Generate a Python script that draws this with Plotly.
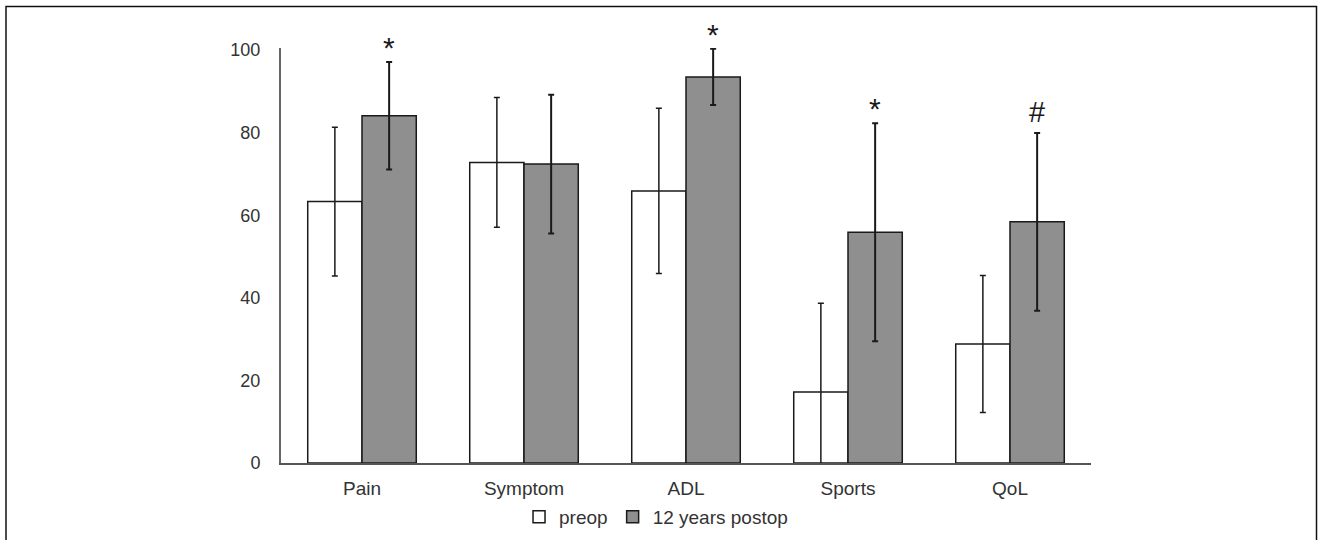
import plotly.graph_objects as go

categories = ["Pain", "Symptom", "ADL", "Sports", "QoL"]
preop_mean = [63.3, 72.8, 65.9, 17.2, 28.8]
preop_sd = [18.0, 15.7, 20.0, 21.5, 16.6]
postop_mean = [84.1, 72.4, 93.5, 55.9, 58.4]
postop_sd = [13.0, 16.8, 6.8, 26.4, 21.5]
marks = ["*", "", "*", "*", "#"]
series_names = ["preop", "12 years postop"]
y_ticks = [0, 20, 40, 60, 80, 100]

FONT = "Liberation Sans, Arial, sans-serif"
fig = go.Figure()
fig.add_trace(go.Bar(
    x=categories, y=preop_mean, name=series_names[0],
    marker=dict(color="white", line=dict(color="#1a1a1a", width=1.5)),
    error_y=dict(type="data", array=preop_sd, visible=True, color="#1a1a1a", thickness=1.5, width=3),
))
fig.add_trace(go.Bar(
    x=categories, y=postop_mean, name=series_names[1],
    marker=dict(color="#8f8f8f", line=dict(color="#1a1a1a", width=1.5)),
    error_y=dict(type="data", array=postop_sd, visible=True, color="#1a1a1a", thickness=2, width=3),
))

for i, (m, mean, sd) in enumerate(zip(marks, postop_mean, postop_sd)):
    if m:
        fig.add_annotation(
            x=i + 0.1675, y=mean + sd, text=m, showarrow=False,
            xref="x", yref="y", yanchor="bottom",
            yshift=-4 if m == "*" else 3,
            font=dict(family=FONT, size=30 if m == "*" else 29, color="#1a1a1a"),
        )

fig.add_shape(type="rect", xref="paper", yref="paper",
              x0=-0.3395, x1=1.2784, y0=-0.3, y1=1.1,
              line=dict(color="#111", width=1.5), fillcolor="rgba(0,0,0,0)", layer="above")

fig.update_layout(
    width=1320, height=540,
    margin=dict(l=281, r=229, t=48, b=77, autoexpand=False),
    paper_bgcolor="white", plot_bgcolor="white",
    barmode="group", bargap=0.33, bargroupgap=0,
    font=dict(family=FONT, size=19, color="#333"),
    showlegend=True,
    legend=dict(orientation="h", x=0.463, xanchor="center", y=-0.13, yanchor="middle",
                font=dict(family=FONT, size=19, color="#333"), itemwidth=30,
                traceorder="normal", bgcolor="rgba(0,0,0,0)"),
    xaxis=dict(showline=True, linecolor="#555", linewidth=2, ticks="", showgrid=False,
               tickfont=dict(family=FONT, size=19, color="#333"), ticklabelstandoff=7),
    yaxis=dict(range=[0, 100.5], tickvals=y_ticks, showline=True, linecolor="#666", linewidth=2,
               ticks="", showgrid=False, zeroline=False,
               tickfont=dict(family=FONT, size=18, color="#333"), ticklabelstandoff=15),
)

fig.write_html("out.html")
